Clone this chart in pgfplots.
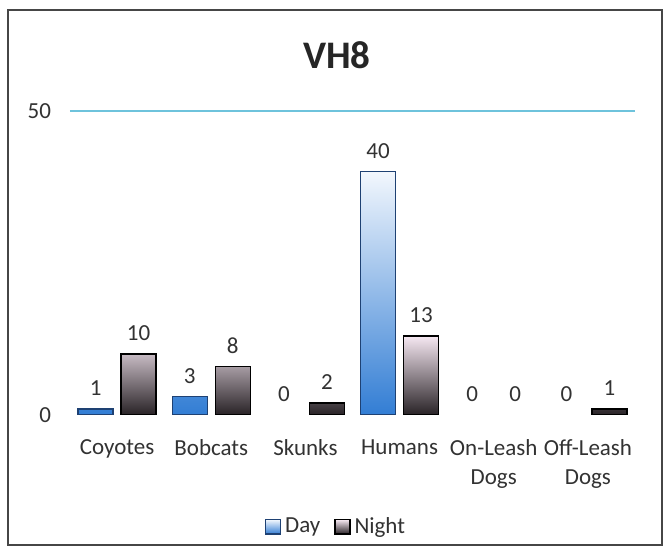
\documentclass[border=0pt]{standalone}
\usepackage{pgfplots}
\pgfplotsset{compat=1.18}
\usepackage{fontspec}
\setmainfont{Carlito}
\definecolor{gridc}{RGB}{110,195,220}
\definecolor{daytop}{RGB}{242,247,253}
\definecolor{daybot}{RGB}{50,125,212}
\definecolor{dayedge}{RGB}{30,65,115}
\definecolor{nighttop}{RGB}{246,232,242}
\definecolor{nightbot}{RGB}{40,34,38}
\definecolor{framec}{RGB}{70,70,70}
\definecolor{txt}{RGB}{50,50,50}

\begin{document}
\begin{tikzpicture}
\path[use as bounding box] (-35pt,-72.5pt) rectangle (299pt,207.5pt);
\draw[framec, line width=0.8pt] (-31pt,-65pt) rectangle (296pt,202.5pt);
\node[font=\fontsize{19.5}{22}\selectfont\bfseries, text=black!85] at (133.5pt,180pt) {VH8};
\begin{axis}[
    at={(0,0)}, anchor=south west,
    scale only axis, width=282.5pt, height=152pt,
    xmin=-0.5, xmax=5.5, ymin=0, ymax=50,
    axis line style={draw=none},
    tick style={draw=none},
    xtick={0,...,5},
    xticklabels={Coyotes,Bobcats,Skunks,Humans,{On-Leash\\Dogs},{Off-Leash\\Dogs}},
    xticklabel style={align=center, text=txt, font=\fontsize{11.5}{14.5}\selectfont, yshift=-4.5pt},
    ytick={0},
    extra y ticks={50},
    extra y tick style={grid=major},
    major grid style={gridc, line width=0.7pt},
    yticklabel style={text=txt, font=\fontsize{11.5}{12}\selectfont},
    yticklabel shift=6pt,
    /pgf/number format/assume math mode=true,
    ybar, bar width=17.5pt,
    legend columns=2,
    legend style={at={(0.4726,-0.368)}, anchor=center, draw=none,
        font=\fontsize{11.5}{12}\selectfont, text=txt,
        /tikz/every even column/.append style={column sep=5pt}},
    legend image code/.code={\draw[#1, line width=0.7pt] (0pt,-3.6pt) rectangle (7.4pt,3.6pt);},
    nodes near coords style={text=txt, font=\fontsize{11.5}{12}\selectfont, yshift=3pt},
]
\addplot[ybar, bar shift=-10.75pt, draw=dayedge, line width=0.6pt,
    top color=daytop, bottom color=daybot]
    coordinates {(0,1) (1,3) (3,40)};
\addlegendentry{Day}
\addplot[ybar, bar shift=10.75pt, draw=black, line width=0.7pt,
    top color=nighttop, bottom color=nightbot]
    coordinates {(0,10) (1,8) (2,2) (3,13) (5,1)};
\addlegendentry{Night}
% value labels, zeros included
\addplot[ybar, bar shift=-10.75pt, draw=none, fill=none, nodes near coords, forget plot]
    coordinates {(0,1) (1,3) (2,0) (3,40) (4,0) (5,0)};
\addplot[ybar, bar shift=10.75pt, draw=none, fill=none, nodes near coords, forget plot]
    coordinates {(0,10) (1,8) (2,2) (3,13) (4,0) (5,1)};
\end{axis}
\end{tikzpicture}
\end{document}
